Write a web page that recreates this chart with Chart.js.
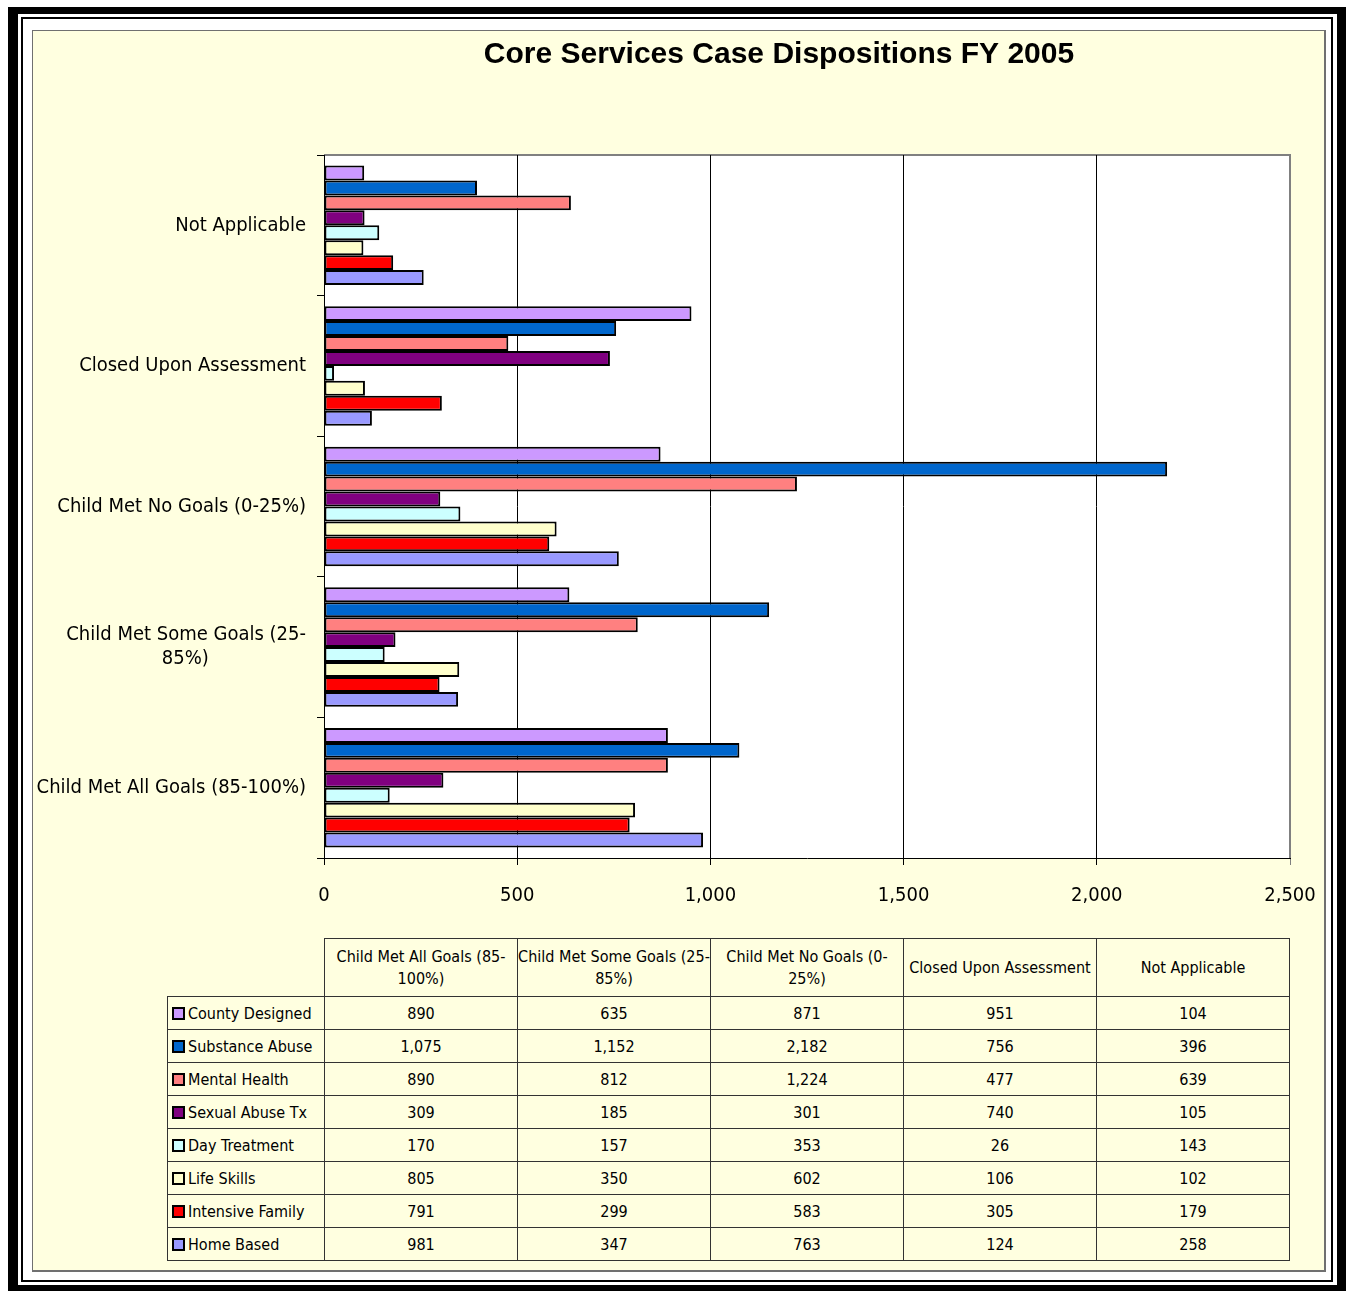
<!DOCTYPE html>
<html>
<head>
<meta charset="utf-8">
<script src="https://cdn.jsdelivr.net/npm/chart.js@4.4.1/dist/chart.umd.min.js"></script>
<style>
  html, body { margin: 0; padding: 0; background: #fff; width: 1346px; height: 1291px; overflow: hidden; }
  body { position: relative; font-family: 'DejaVu Sans Condensed', 'Liberation Sans Narrow', sans-serif; }
  .f1 { position: absolute; left: 8px; top: 7px; width: 1338px; height: 1284px; box-sizing: border-box; border: 7px solid #000; border-left-width: 10px; border-right-width: 9px; border-bottom-width: 6px; }
  .f2 { position: absolute; left: 21px; top: 17px; width: 1312px; height: 1265px; box-sizing: border-box; border: 2px solid #000; }
  .panel { position: absolute; left: 32px; top: 30px; width: 1294px; height: 1242px; box-sizing: border-box; border: 1px solid #707070; border-right-width: 2px; border-bottom-width: 2px; background: #FFFFE0; }
  #wrap { position: absolute; left: 34px; top: 31px; width: 1290px; height: 887px; }
  table { position: absolute; left: 167px; top: 938px; border-collapse: collapse; font-size: 16px; color: #000; table-layout: fixed; }
  td { border: 1px solid #333; height: 32px; padding: 0; text-align: center; white-space: nowrap; overflow: hidden; }
  td.hd { height: 57px; line-height: 22px; }
  td.blank { border: none; }
  td.lg { text-align: left; padding-left: 4px; }
  .key { display: inline-block; width: 9px; height: 9px; border: 2px solid #000; margin-right: 3px; vertical-align: -1px; }
</style>
</head>
<body>
<div class="f1"></div>
<div class="f2"></div>
<div class="panel"></div>
<div id="wrap"><canvas id="c" width="1290" height="887"></canvas></div>
<table id="tbl"></table>
<script>
// categories in table order (left to right)
const CATS = ['Child Met All Goals (85-100%)', 'Child Met Some Goals (25-85%)', 'Child Met No Goals (0-25%)', 'Closed Upon Assessment', 'Not Applicable'];
const CAT_HEAD = [['Child Met All Goals (85-', '100%)'], ['Child Met Some Goals (25-', '85%)'], ['Child Met No Goals (0-', '25%)'], ['Closed Upon Assessment'], ['Not Applicable']];
const SERIES = ['County Designed', 'Substance Abuse', 'Mental Health', 'Sexual Abuse Tx', 'Day Treatment', 'Life Skills', 'Intensive Family', 'Home Based'];
const COLORS = ['#CC99FF', '#0066CC', '#FF8080', '#800080', '#CCFFFF', '#FFFFCC', '#FF0000', '#9999FF'];

const countyDesigned  = [890, 635, 871, 951, 104];
const substanceAbuse  = [1075, 1152, 2182, 756, 396];
const mentalHealth    = [890, 812, 1224, 477, 639];
const sexualAbuseTx   = [309, 185, 301, 740, 105];
const dayTreatment    = [170, 157, 353, 26, 143];
const lifeSkills      = [805, 350, 602, 106, 102];
const intensiveFamily = [791, 299, 583, 305, 179];
const homeBased       = [981, 347, 763, 124, 258];
const VALUES = [countyDesigned, substanceAbuse, mentalHealth, sexualAbuseTx, dayTreatment, lifeSkills, intensiveFamily, homeBased];

const X_TICKS = [0, 500, 1000, 1500, 2000, 2500];
const TITLE = 'Core Services Case Dispositions FY 2005';

// chart lists categories top-to-bottom, so reverse the table order
// (second line of the wrapped label is padded so it sits centred under the first, as in the original)
const yLabels = CATS.slice().reverse().map(c => c === 'Child Met Some Goals (25-85%)' ? ['Child Met Some Goals (25-', '85%)' + ' '.repeat(17)] : c);
const datasets = SERIES.map((s, i) => ({
  label: s, data: VALUES[i].slice().reverse(),
  backgroundColor: COLORS[i], borderColor: '#000', borderWidth: 2, borderSkipped: false,
  categoryPercentage: 0.85, barPercentage: 1.0
}));

const FONT = "'DejaVu Sans Condensed', 'Liberation Sans Narrow', sans-serif";

// white plot area with grey top/right edge, plus the title centred where the original has it
const plotBox = {
  id: 'plotBox',
  beforeDraw(c) {
    const a = c.chartArea, ctx = c.ctx;
    ctx.save();
    ctx.fillStyle = '#fff'; ctx.fillRect(a.left, a.top, a.right - a.left, a.bottom - a.top);
    ctx.strokeStyle = '#808080'; ctx.lineWidth = 2;
    ctx.beginPath(); ctx.moveTo(a.left, a.top); ctx.lineTo(a.right, a.top); ctx.lineTo(a.right, a.bottom); ctx.stroke();
    ctx.fillStyle = '#000'; ctx.font = "bold 30px 'Liberation Sans', Arial, sans-serif";
    ctx.textAlign = 'center'; ctx.textBaseline = 'middle';
    ctx.fillText(TITLE, 745, 24);
    ctx.restore();
  }
};

new Chart(document.getElementById('c'), {
  type: 'bar',
  data: { labels: yLabels, datasets },
  plugins: [plotBox],
  options: {
    indexAxis: 'y', responsive: false, animation: false,
    layout: { padding: { left: 0, right: 34, top: 124, bottom: 0 } },
    plugins: { legend: { display: false }, tooltip: { enabled: false }, title: { display: false } },
    scales: {
      x: {
        min: 0, max: 2500,
        afterBuildTicks: s => { s.ticks = X_TICKS.map(v => ({ value: v })); },
        afterFit: s => { s.height = 60; s.paddingLeft = 0; s.paddingRight = 0; },
        ticks: { color: '#000', font: { family: FONT, size: 20 }, padding: 19,
          callback: v => v.toLocaleString('en-US') },
        grid: { color: c => c.tick && c.tick.value === 2500 ? '#808080' : '#000', lineWidth: 1, tickLength: 7, drawTicks: true },
        border: { color: '#000', width: 1 }
      },
      y: {
        afterFit: s => { s.width = 290; s.paddingTop = 0; s.paddingBottom = 0; },
        ticks: { color: '#000', font: { family: FONT, size: 20 }, padding: 11, autoSkip: false },
        grid: { offset: true, drawOnChartArea: false, color: '#000', tickLength: 7 },
        border: { color: '#000', width: 1 }
      }
    }
  }
});

// data table under the chart
const colW = 193;
let html = '<colgroup><col style="width:157px">' + CAT_HEAD.map(() => `<col style="width:${colW}px">`).join('') + '</colgroup>';
html += '<tr><td class="blank"></td>' +
  CAT_HEAD.map(h => `<td class="hd">${h.join('<br>')}</td>`).join('') + '</tr>';
html += SERIES.map((s, i) =>
  `<tr><td class="lg"><span class="key" style="background:${COLORS[i]}"></span>${s}</td>` +
  VALUES[i].map(v => `<td>${v.toLocaleString('en-US')}</td>`).join('') + '</tr>').join('');
document.getElementById('tbl').innerHTML = html;
</script>
</body>
</html>
